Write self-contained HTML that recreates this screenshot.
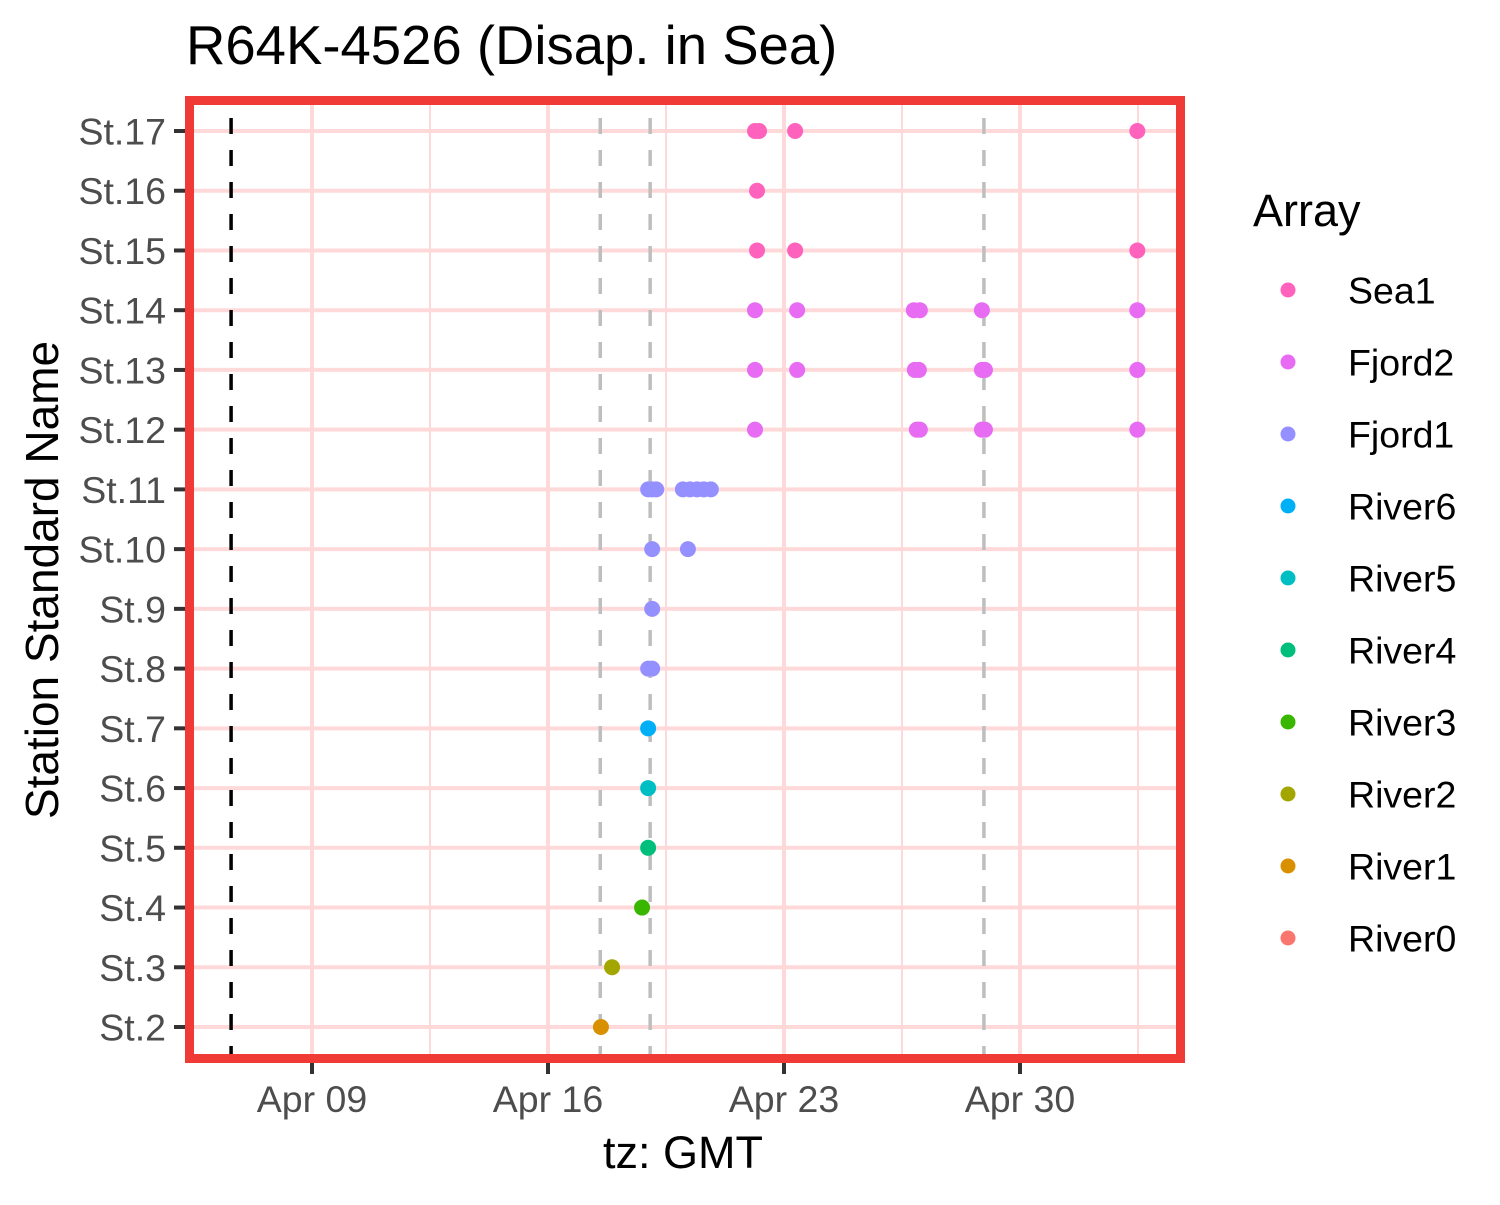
<!DOCTYPE html>
<html><head><meta charset="utf-8"><style>
body{margin:0;background:#fff;}
svg text{font-family:"Liberation Sans",Arial,sans-serif;}
</style></head><body>
<svg id="chart" width="1500" height="1200" xmlns="http://www.w3.org/2000/svg">
<text x="186" y="64" font-size="54.5" fill="#000">R64K-4526 (Disap. in Sea)</text>
<g id="grid"></g>
<g id="vlines"></g>
<g id="points"></g>
<rect x="189.5" y="100.5" width="991" height="958" fill="none" stroke="#F03A35" stroke-width="9"/>
<g id="axes"></g>
<text x="683" y="1168" font-size="45" text-anchor="middle" fill="#000">tz: GMT</text>
<text transform="translate(58,580) rotate(-90)" font-size="46" text-anchor="middle" fill="#000">Station Standard Name</text>
<text x="1253" y="226" font-size="45" fill="#000">Array</text>
<g id="legend"></g>
</svg>
<script>
const stations=["St.2","St.3","St.4","St.5","St.6","St.7","St.8","St.9","St.10","St.11","St.12","St.13","St.14","St.15","St.16","St.17"];
const xTickLabels=["Apr 09","Apr 16","Apr 23","Apr 30"];
const xTickDays=[0,7,14,21];
const arrays=["Sea1","Fjord2","Fjord1","River6","River5","River4","River3","River2","River1","River0"];
const arrayColors=["#FF62BC","#E76BF3","#9590FF","#00B0F6","#00BFC4","#00BF7D","#39B600","#A3A500","#D89000","#F8766D"];
// detections: days since Apr 09 00:00
const detStation=["St.2","St.3","St.4","St.5","St.6","St.7","St.8","St.8","St.9","St.10","St.10",
"St.11","St.11","St.11","St.11","St.11","St.11","St.11","St.11",
"St.12","St.12","St.12","St.12","St.12","St.12",
"St.13","St.13","St.13","St.13","St.13","St.13","St.13",
"St.14","St.14","St.14","St.14","St.14","St.14",
"St.15","St.15","St.15","St.16","St.17","St.17","St.17","St.17"];
const detDay=[8.57,8.90,9.79,9.97,9.97,9.97,9.97,10.09,10.09,10.09,11.15,
9.97,10.09,10.21,11.0,11.21,11.42,11.62,11.83,
13.14,17.94,18.03,19.87,19.96,24.48,
13.14,14.39,17.88,18.0,19.87,19.96,24.48,
13.14,14.39,17.85,18.03,19.87,24.48,
13.2,14.33,24.48,13.2,13.14,13.26,14.33,24.48];
const detArray=["River1","River2","River3","River4","River5","River6","Fjord1","Fjord1","Fjord1","Fjord1","Fjord1",
"Fjord1","Fjord1","Fjord1","Fjord1","Fjord1","Fjord1","Fjord1","Fjord1",
"Fjord2","Fjord2","Fjord2","Fjord2","Fjord2","Fjord2",
"Fjord2","Fjord2","Fjord2","Fjord2","Fjord2","Fjord2","Fjord2",
"Fjord2","Fjord2","Fjord2","Fjord2","Fjord2","Fjord2",
"Sea1","Sea1","Sea1","Sea1","Sea1","Sea1","Sea1","Sea1"];
const refBlack=[-2.4];
const refGrey=[8.55,10.03,19.93];

const NS="http://www.w3.org/2000/svg";
const x=d=>312+d*(236/7);
const y=s=>1027-stations.indexOf(s)*(896/15);
function mk(tag,attrs,parent){const e=document.createElementNS(NS,tag);for(const k in attrs)e.setAttribute(k,attrs[k]);parent.appendChild(e);return e;}
const grid=document.getElementById('grid'),vl=document.getElementById('vlines'),pts=document.getElementById('points'),axes=document.getElementById('axes'),leg=document.getElementById('legend');
for(let i=0;i<4;i++){const l=mk('line',{x1:x(xTickDays[i]+3.5),x2:x(xTickDays[i]+3.5),y1:100,y2:1059,stroke:'#FFD9D9','stroke-width':2},grid);

}
xTickDays.forEach((d,i)=>{const l=mk('line',{x1:x(d),x2:x(d),y1:100,y2:1059,stroke:'#FFD9D9','stroke-width':4},grid);


const t=mk('line',{x1:x(d),x2:x(d),y1:1063,y2:1074,stroke:'#333','stroke-width':4},axes);


const tx=mk('text',{x:x(d),y:1112,'font-size':37.5,'text-anchor':'middle',fill:'#4D4D4D'},axes);tx.textContent=xTickLabels[i];

});
stations.forEach(s=>{const l=mk('line',{x1:190,x2:1180,y1:y(s),y2:y(s),stroke:'#FFD9D9','stroke-width':4},grid);


const t=mk('line',{x1:174,x2:185,y1:y(s),y2:y(s),stroke:'#333','stroke-width':4},axes);


const tx=mk('text',{x:166,y:y(s)+13.5,'font-size':37.5,'text-anchor':'end',fill:'#4D4D4D'},axes);tx.textContent=s;

});
refBlack.forEach(d=>{const l=mk('line',{x1:x(d),x2:x(d),y1:118,y2:1059,stroke:'#000','stroke-width':3.5,'stroke-dasharray':'16 16'},vl);

});
refGrey.forEach(d=>{const l=mk('line',{x1:x(d),x2:x(d),y1:118,y2:1059,stroke:'#BEBEBE','stroke-width':3.5,'stroke-dasharray':'16 16'},vl);

});
detDay.forEach((d,i)=>{const c=mk('circle',{cx:x(d),cy:y(detStation[i]),r:8,fill:arrayColors[arrays.indexOf(detArray[i])]},pts);

});
arrays.forEach((a,i)=>{const cy=290+i*72;
const g=mk('g',{},leg);


mk('circle',{cx:1288,cy:cy,r:7.5,fill:arrayColors[i]},g);
const t=mk('text',{x:1348,y:cy+13.5,'font-size':37.5,fill:'#000'},g);t.textContent=a;});
</script>
</body></html>
